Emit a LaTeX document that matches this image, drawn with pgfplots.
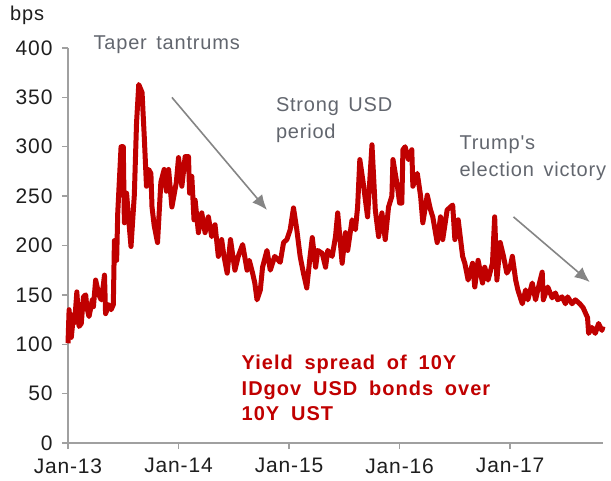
\documentclass[border=0pt]{standalone}
\usepackage{fontspec}
\setmainfont{Liberation Sans}[LetterSpace=4]
\newfontfamily\redfont{Liberation Sans}[LetterSpace=5,WordSpace=1.8]
\newfontfamily\notefont{Liberation Sans}[LetterSpace=4,WordSpace=1.5]
\usepackage{pgfplots}
\pgfplotsset{compat=1.18}
\usetikzlibrary{arrows.meta}
\definecolor{myred}{HTML}{C00000}
\definecolor{axgray}{HTML}{A0A0A0}
\definecolor{txtgray}{HTML}{62666E}
\definecolor{arrgray}{HTML}{858585}
\definecolor{ticktxt}{HTML}{1E1E1E}
\begin{document}
\begin{tikzpicture}
\path[use as bounding box] (-68pt,-38pt) rectangle (543pt,443pt);
\begin{axis}[
  scale only axis,
  width=535pt, height=395pt,
  xmin=0, xmax=4.84, ymin=0, ymax=400,
  axis x line*=bottom, axis y line*=left,
  axis line style={axgray, line width=1.4pt},
  xtick={0,1,2,3,4},
  xticklabels={Jan-13,Jan-14,Jan-15,Jan-16,Jan-17},
  ytick={0,50,...,400},
  tick align=outside,
  major tick length=6pt,
  tick style={axgray, line width=1.4pt},
  /pgf/number format/assume math mode=true,
  ticklabel style={font=\fontsize{21}{24}\selectfont, text=ticktxt},
  yticklabel style={xshift=-6pt},
  xticklabel style={yshift=-6pt},
  clip=false,
]
\addplot[color=myred, line width=5pt, line join=round] table {
0.00 101
0.01 135
0.02 118
0.03 107
0.05 130
0.06 122
0.08 153
0.10 118
0.12 121
0.13 135
0.14 148
0.16 150
0.17 138
0.19 128
0.22 145
0.23 138
0.25 165
0.28 150
0.30 145
0.32 160
0.33 170
0.34 131
0.37 140
0.39 135
0.41 140
0.42 205
0.44 185
0.45 233
0.48 300
0.50 300
0.51 223
0.53 253
0.55 225
0.57 199
0.60 251
0.62 324
0.64 363
0.67 355
0.69 310
0.71 260
0.73 277
0.75 273
0.76 239
0.78 220
0.81 203
0.84 264
0.87 277
0.89 255
0.91 277
0.94 239
0.98 264
1.00 289
1.03 260
1.06 290
1.09 290
1.10 253
1.12 270
1.14 226
1.15 246
1.18 213
1.21 233
1.24 213
1.27 229
1.30 209
1.33 221
1.36 189
1.39 206
1.41 190
1.44 172
1.47 206
1.51 175
1.54 189
1.58 201
1.62 175
1.64 185
1.67 172
1.69 162
1.71 145
1.74 155
1.76 178
1.80 195
1.83 175
1.87 189
1.92 183
1.95 203
1.98 206
2.01 216
2.04 238
2.07 216
2.10 189
2.13 172
2.16 157
2.19 189
2.21 208
2.24 178
2.26 195
2.30 192
2.33 178
2.35 195
2.39 189
2.42 209
2.44 233
2.48 182
2.51 213
2.53 195
2.57 226
2.60 216
2.62 239
2.64 287
2.67 264
2.71 229
2.75 302
2.78 236
2.81 209
2.84 233
2.87 206
2.90 239
2.93 250
2.94 287
2.98 260
3.00 243
3.02 243
3.03 297
3.05 300
3.08 287
3.11 297
3.12 260
3.16 273
3.19 250
3.21 223
3.25 251
3.28 236
3.30 229
3.34 203
3.37 229
3.39 206
3.43 236
3.48 241
3.50 206
3.53 226
3.57 189
3.59 182
3.62 165
3.66 182
3.68 158
3.71 185
3.75 162
3.77 178
3.80 165
3.84 182
3.86 229
3.88 165
3.91 203
3.94 189
3.97 172
4.00 178
4.02 189
4.05 165
4.07 155
4.11 141
4.14 155
4.16 145
4.20 162
4.23 145
4.25 155
4.29 173
4.30 145
4.34 158
4.38 147
4.41 152
4.43 145
4.47 148
4.50 141
4.52 148
4.56 141
4.59 145
4.63 141
4.66 137
4.70 127
4.71 111
4.74 117
4.77 111
4.80 121
4.83 114
4.84 118
};
\draw[arrgray, line width=1.6pt, -{Latex[length=15pt,width=13pt]}] (axis cs:0.94,350) -- (axis cs:1.80,236);
\draw[arrgray, line width=1.6pt, -{Latex[length=15pt,width=13pt]}] (axis cs:4.03,229) -- (axis cs:4.72,163);
\node[anchor=west, text=txtgray, font=\notefont\fontsize{20}{24}\selectfont, inner sep=0pt] at (axis cs:0.23,403) {Taper tantrums};
\node[anchor=north west, text=txtgray, font=\notefont\fontsize{20}{27}\selectfont, inner sep=0pt, align=left] at (axis cs:1.88,350) {Strong USD\\period};
\node[anchor=north west, text=txtgray, font=\notefont\fontsize{20}{27}\selectfont, inner sep=0pt, align=left] at (axis cs:3.54,311) {Trump's\\election victory};
\node[anchor=north west, text=myred, font=\redfont\bfseries\fontsize{20}{25.5}\selectfont, inner sep=0pt, align=left] at (axis cs:1.57,89) {Yield spread of 10Y\\IDgov USD bonds over\\10Y UST};
\end{axis}
\node[anchor=west, text=ticktxt, font=\fontsize{20}{24}\selectfont, inner sep=0pt] at (-58pt,428pt) {bps};
\end{tikzpicture}
\end{document}
